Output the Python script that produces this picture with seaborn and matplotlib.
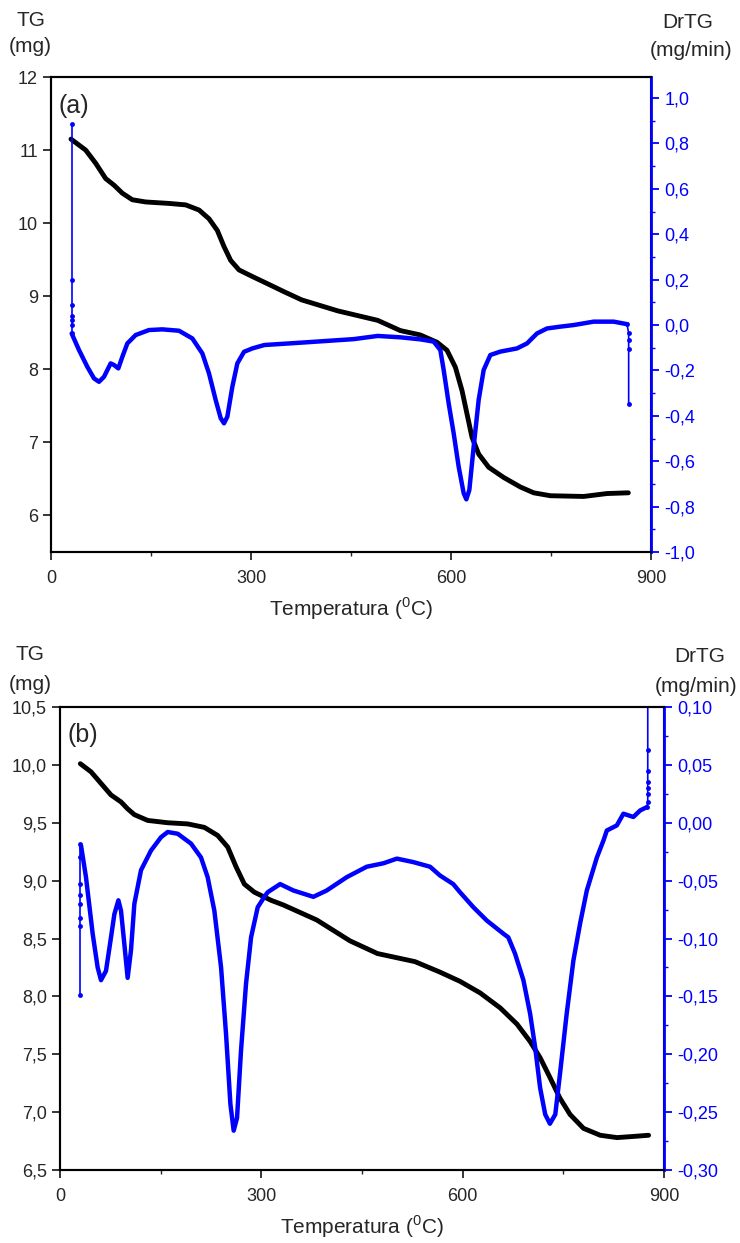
import seaborn as sns
import matplotlib.pyplot as plt
from matplotlib.ticker import FuncFormatter, MultipleLocator

# ---------- panel (a) ----------
tg_a_temp = [30, 52, 67, 82, 94.5, 107, 122, 142, 177, 202, 222, 237, 249.5, 259.5, 269.5,
             282, 302, 325, 350, 376, 430, 490, 524, 554, 579, 594, 606.5, 616.5, 624,
             631.5, 641.5, 656.5, 679, 704, 724, 749, 799, 834, 866]
tg_a_mass = [11.15, 11.0, 10.82, 10.61, 10.52, 10.41, 10.32, 10.29, 10.27, 10.25, 10.18,
             10.06, 9.90, 9.68, 9.49, 9.36, 9.27, 9.17, 9.06, 8.95, 8.80, 8.67, 8.53, 8.47,
             8.37, 8.26, 8.03, 7.71, 7.39, 7.07, 6.84, 6.66, 6.52, 6.39, 6.31, 6.27, 6.26,
             6.30, 6.31]

dtg_a_temp = [31, 42, 54.5, 64.5, 72, 79.5, 89.5, 94.5, 101, 107, 114.5, 127, 147, 167, 192,
              212, 227, 237, 247, 254.5, 259.5, 264.5, 272, 279.5, 289.5, 302, 320, 383,
              454, 490, 524, 554, 574, 584, 589, 596.5, 604, 611.5, 619, 623, 627.5, 634,
              641.5, 649, 659, 674, 699, 714, 729, 744, 764, 784, 814, 844, 864]
dtg_a_rate = [-0.037, -0.11, -0.184, -0.235, -0.25, -0.228, -0.169, -0.176, -0.191, -0.14,
              -0.081, -0.044, -0.022, -0.019, -0.025, -0.059, -0.125, -0.213, -0.33, -0.41,
              -0.433, -0.404, -0.272, -0.169, -0.118, -0.103, -0.088, -0.076, -0.062,
              -0.048, -0.054, -0.063, -0.073, -0.11, -0.198, -0.345, -0.477, -0.624,
              -0.741, -0.768, -0.727, -0.536, -0.33, -0.198, -0.132, -0.117, -0.103,
              -0.081, -0.037, -0.015, -0.007, 0.0, 0.015, 0.015, 0.004]
# isolated vertical jumps at start and end of the run
dtg_a_start_temp = [31, 31, 31, 31, 31, 31, 31]
dtg_a_start_rate = [0.885, 0.198, 0.088, 0.04, 0.022, 0.0, -0.037]
dtg_a_end_temp = [864, 866.5, 866.5, 866.5, 866.5]
dtg_a_end_rate = [0.004, -0.037, -0.066, -0.107, -0.35]

# ---------- panel (b) ----------
tg_b_temp = [30.3, 46.2, 61.1, 76, 90.9, 100.8, 110.8, 130.7, 160.5, 190.3, 215.1, 235,
             249.9, 262.3, 274.7, 289.6, 314.5, 332.7, 382.6, 432, 473, 529, 566, 596, 626,
             656, 681, 700.5, 715.4, 730, 745, 760, 780, 805, 830, 854.5, 877]
tg_b_mass = [10.01, 9.94, 9.84, 9.74, 9.68, 9.62, 9.57, 9.52, 9.50, 9.49, 9.46, 9.39, 9.29,
             9.12, 8.97, 8.90, 8.83, 8.79, 8.66, 8.48, 8.37, 8.30, 8.21, 8.13, 8.03, 7.90,
             7.76, 7.61, 7.47, 7.30, 7.12, 6.98, 6.86, 6.80, 6.78, 6.79, 6.80]

dtg_b_temp = [31.3, 38.7, 48.7, 56.1, 61.1, 68.5, 76, 81, 87, 90.9, 95.9, 100.8, 105.8,
              110.8, 120.7, 135.6, 150.5, 160.5, 175.4, 195.2, 210.1, 220, 230, 240, 247.4,
              253.9, 258.8, 263.8, 269.7, 277.2, 284.7, 294.6, 304.5, 309.5, 328, 347.7,
              377.5, 397.5, 427.3, 457, 482, 502, 526.5, 551.4, 566.3, 586, 596, 616, 636,
              661, 668, 678, 690.5, 700.5, 708, 715.4, 723, 730, 738, 745, 755, 765, 775,
              785, 800, 810, 814.8, 829.7, 839.5, 854.4, 864.4, 874.4]
dtg_b_rate = [-0.0196, -0.047, -0.096, -0.125, -0.136, -0.128, -0.099, -0.079, -0.067,
              -0.076, -0.105, -0.134, -0.11, -0.070, -0.041, -0.024, -0.0125, -0.008,
              -0.0095, -0.018, -0.030, -0.047, -0.076, -0.125, -0.1825, -0.243, -0.266,
              -0.255, -0.197, -0.139, -0.099, -0.073, -0.064, -0.060, -0.053, -0.0585,
              -0.064, -0.0585, -0.047, -0.038, -0.035, -0.031, -0.034, -0.038, -0.0456,
              -0.053, -0.060, -0.073, -0.0845, -0.096, -0.099, -0.113, -0.136, -0.165,
              -0.194, -0.229, -0.252, -0.26, -0.252, -0.217, -0.165, -0.119, -0.087,
              -0.0585, -0.030, -0.015, -0.0067, -0.0023, 0.0078, 0.005, 0.0106, 0.0135]
dtg_b_start_temp = [30.3, 30.3, 30.3, 30.3, 30.3, 30.3, 30.3, 30.3]
dtg_b_start_rate = [-0.149, -0.089, -0.082, -0.070, -0.062, -0.053, -0.03, -0.018]
dtg_b_end_temp = [874.4, 875.8, 875.8, 875.8, 875.8, 875.8, 875.8, 875.8]
dtg_b_end_rate = [0.0135, 0.018, 0.025, 0.030, 0.035, 0.045, 0.063, 0.12]

sns.set_style("ticks")
plt.rcParams['font.family'] = ['Liberation Sans', 'DejaVu Sans']
plt.rcParams['axes.unicode_minus'] = False
plt.rcParams['mathtext.fontset'] = 'custom'
plt.rcParams['mathtext.rm'] = 'Liberation Sans'

BLUE = '#0000FF'
W, H = 740, 1243
fig = plt.figure(figsize=(W / 100, H / 100), dpi=100)


def comma(fmt):
    return FuncFormatter(lambda v, p: (fmt % v).replace('.', ','))


def panel(box, tg_t, tg_m, d_t, d_r, spikes, ylim, yticks, yfmt, rlim, rstep, rfmt, label):
    l, t, r, b = box
    ax = fig.add_axes([l / W, 1 - b / H, (r - l) / W, (b - t) / H])
    ax2 = ax.twinx()
    sns.lineplot(x=tg_t, y=tg_m, ax=ax, color='black', lw=3.5,
                 estimator=None, sort=False, solid_joinstyle='round',
                 solid_capstyle='round')
    sns.lineplot(x=d_t, y=d_r, ax=ax2, color=BLUE, lw=3.2,
                 estimator=None, sort=False, solid_joinstyle='round',
                 solid_capstyle='round')
    for st, sr in spikes:
        sns.lineplot(x=st, y=sr, ax=ax2, color=BLUE, lw=1.2, marker='o',
                     markersize=3.5, markeredgewidth=0, estimator=None, sort=False)

    ax.set_xlim(0, 900)
    ax.xaxis.set_major_locator(MultipleLocator(300))
    ax.xaxis.set_minor_locator(MultipleLocator(150))
    ax.set_ylim(*ylim)
    ax.set_yticks(yticks)
    ax.yaxis.set_major_formatter(comma(yfmt))
    ax.set_xlabel('Temperatura ($^0$C)', fontsize=15, labelpad=6)
    ax.set_ylabel('')
    ax.tick_params(which='major', length=6, width=1.3, labelsize=13, direction='out')
    ax.tick_params(axis='x', which='major', pad=7)
    ax.tick_params(which='minor', length=3, width=1.0, direction='out')

    ax2.set_ylim(*rlim)
    ax2.yaxis.set_major_locator(MultipleLocator(rstep))
    ax2.yaxis.set_minor_locator(MultipleLocator(rstep / 2))
    ax2.yaxis.set_major_formatter(comma(rfmt))
    ax2.set_ylabel('')
    ax2.tick_params(axis='y', which='major', colors=BLUE, length=6, width=1.3,
                    labelsize=13)
    ax2.tick_params(axis='y', which='minor', colors=BLUE, length=3, width=1.0)

    for a in (ax, ax2):
        for s in a.spines.values():
            s.set_linewidth(1.5)
            s.set_color('black')
    ax2.spines['right'].set_color(BLUE)
    ax2.spines['right'].set_linewidth(2)
    ax.text(0.012, 0.965, label, transform=ax.transAxes, fontsize=18,
            va='top', ha='left')
    return ax, ax2


panel((51, 77, 651, 552), tg_a_temp, tg_a_mass, dtg_a_temp, dtg_a_rate,
      [(dtg_a_start_temp, dtg_a_start_rate), (dtg_a_end_temp, dtg_a_end_rate)],
      (5.5, 12), [6, 7, 8, 9, 10, 11, 12], '%.0f',
      (-1.0, 1.093), 0.2, '%.1f', '(a)')

panel((60, 707, 664, 1170), tg_b_temp, tg_b_mass, dtg_b_temp, dtg_b_rate,
      [(dtg_b_start_temp, dtg_b_start_rate), (dtg_b_end_temp, dtg_b_end_rate)],
      (6.5, 10.5), [6.5, 7.0, 7.5, 8.0, 8.5, 9.0, 9.5, 10.0, 10.5], '%.1f',
      (-0.30, 0.10), 0.05, '%.2f', '(b)')

# axis titles above the y axes
fig.text(31 / W, 1 - 20 / H, 'TG', fontsize=15, ha='center', va='center')
fig.text(30 / W, 1 - 47 / H, '(mg)', fontsize=15, ha='center', va='center')
fig.text(688 / W, 1 - 22 / H, 'DrTG', fontsize=15, ha='center', va='center')
fig.text(691 / W, 1 - 51 / H, '(mg/min)', fontsize=15, ha='center', va='center')
fig.text(30 / W, 1 - 655 / H, 'TG', fontsize=15, ha='center', va='center')
fig.text(30 / W, 1 - 684 / H, '(mg)', fontsize=15, ha='center', va='center')
fig.text(700 / W, 1 - 657 / H, 'DrTG', fontsize=15, ha='center', va='center')
fig.text(696 / W, 1 - 687 / H, '(mg/min)', fontsize=15, ha='center', va='center')

fig.savefig('out.png', dpi=100)
